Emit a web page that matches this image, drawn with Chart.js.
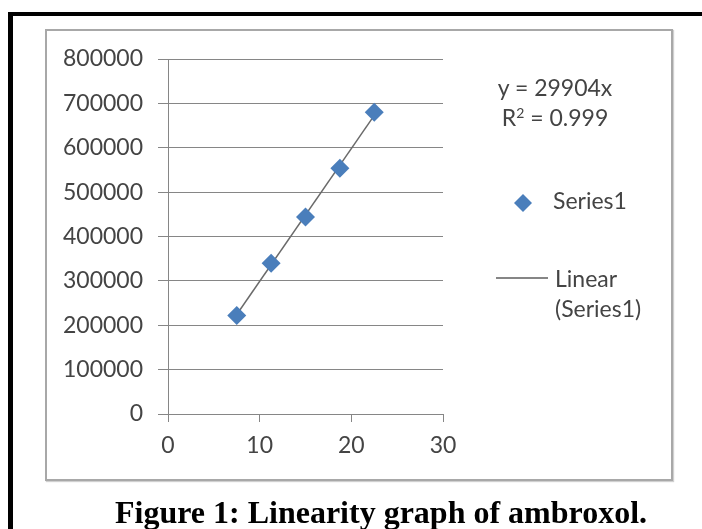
<!DOCTYPE html>
<html>
<head>
<meta charset="utf-8">
<script src="https://cdn.jsdelivr.net/npm/chart.js@4.4.1/dist/chart.umd.min.js"></script>
<style>
  html, body { margin: 0; padding: 0; background: #fff; }
  body { width: 702px; height: 529px; position: relative; overflow: hidden; font-family: Lato, "Open Sans", sans-serif; }
  #frame { position: absolute; left: 8px; top: 12px; width: 700px; height: 530px;
           border-top: 4px solid #000; border-left: 5px solid #000; }
  #box { position: absolute; left: 45px; top: 29px; width: 624px; height: 448px;
         border: 2px solid #a8a8a8; box-shadow: 1px 1px 1px #d0d0d0; }
  #chart { position: absolute; left: 0; top: 0; }
  .txt { position: absolute; color: #444; font-size: 23px; line-height: 30px; white-space: nowrap; }
  #eq { left: 495px; top: 72px; width: 120px; text-align: center; }
  #leg1 { left: 514px; top: 185px; }
  #leg2 { left: 496px; top: 263px; }
  .mark { display: inline-block; vertical-align: middle; }
  #caption { position: absolute; left: 0; width: 762px; top: 494px; text-align: center;
             font-family: "Liberation Serif", "Times New Roman", serif; font-weight: bold;
             font-size: 32px; color: #000; line-height: 36px; white-space: nowrap; }
</style>
</head>
<body>
<div id="frame"></div>
<div id="box"></div>
<canvas id="chart" width="702" height="529"></canvas>
<div class="txt" id="eq">y = 29904x<br>R<sup style="font-size:14px;vertical-align:8px;line-height:0">2</sup> = 0.999</div>
<div class="txt" id="leg1"></div>
<div class="txt" id="leg2"></div>
<div id="caption">Figure 1: Linearity graph of ambroxol.</div>
<script>
// data
const concX = [7.5, 11.25, 15, 18.75, 22.5];
const areaY = [222000, 340000, 444000, 554000, 680000];
const seriesName = "Series1";
const trendName = "Linear (Series1)";
// ujung garis tren y = 29904x
const trendX = [7.5, 22.5];
const trendY = [224280, 672840];
const xTicks = [0, 10, 20, 30];
const yTicks = [0, 100000, 200000, 300000, 400000, 500000, 600000, 700000, 800000];

const blue = '#4a7ebb';
const grey = '#868686';
const textCol = '#444444';

var ctx = document.getElementById("chart");
var chart = new Chart(ctx, {
  type: 'scatter',
  data: {
    datasets: [{
      label: seriesName,
      data: concX.map((x, i) => ({ x: x, y: areaY[i] })),
      pointStyle: 'rectRot',
      pointRadius: 9.5,
      backgroundColor: blue,
      borderColor: blue,
      borderWidth: 0,
      order: 1
    }, {
      label: trendName,
      type: 'line',
      data: trendX.map((x, i) => ({ x: x, y: trendY[i] })),
      borderColor: '#6a6a6a',
      borderWidth: 1.5,
      pointRadius: 0,
      fill: false,
      order: 2
    }]
  },
  options: {
    responsive: false,
    animation: false,
    devicePixelRatio: 1,
    layout: { padding: { left: 46, right: 259, top: 59, bottom: 49 } },
    plugins: { legend: { display: false }, tooltip: { enabled: false } },
    scales: {
      x: {
        type: 'linear',
        min: 0, max: 30,
        afterBuildTicks: (s) => { s.ticks = xTicks.map(v => ({ value: v })); },
        afterFit: (s) => { s.height = 66; },
        grid: { drawOnChartArea: false, drawTicks: true, tickLength: 8, color: grey },
        border: { display: false },
        ticks: { color: textCol, padding: 10, font: { family: 'Lato', size: 23 } }
      },
      y: {
        type: 'linear',
        min: 0, max: 800000,
        afterBuildTicks: (s) => { s.ticks = yTicks.map(v => ({ value: v })); },
        afterFit: (s) => { s.width = 122; },
        grid: { drawOnChartArea: true, drawTicks: true, tickLength: 10, color: grey },
        border: { display: true, color: grey },
        ticks: { color: textCol, padding: 15, font: { family: 'Lato', size: 23 },
                 callback: (v) => String(v) }
      }
    }
  }
});

// legenda dari dataset
const ds = chart.data.datasets;
document.getElementById('leg1').innerHTML =
  '<svg class="mark" width="18" height="18" style="margin-right:21px"><polygon points="9,0 18,9 9,18 0,9" fill="' + ds[0].backgroundColor + '"/></svg>' + ds[0].label;
const parts = ds[1].label.split(' ');
document.getElementById('leg2').innerHTML =
  '<div style="position:absolute;left:0;top:14px;width:52px;height:2px;background:' + grey + '"></div>' +
  '<div style="margin-left:59px">' + parts[0] + '<br>' + parts[1] + '</div>';
</script>
</body>
</html>
